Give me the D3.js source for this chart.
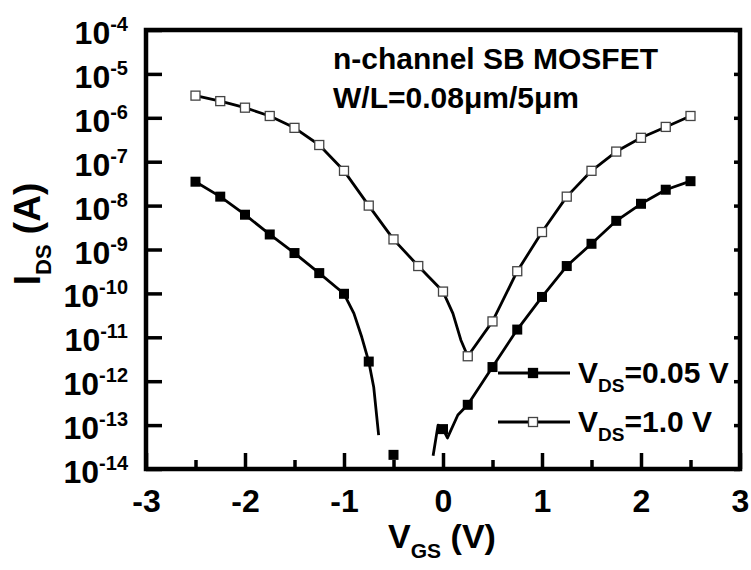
<!DOCTYPE html>
<html>
<head>
<meta charset="utf-8">
<script src="https://cdn.jsdelivr.net/npm/d3@7"></script>
<style>
  body { margin: 0; background: #fff; }
  text { font-family: "Liberation Sans", Arial, Helvetica, sans-serif; font-weight: bold; fill: #000; }
</style>
</head>
<body>
<div class="svg-container"></div>
<script>
// gate voltage of the marker points
const vgs = [-2.5, -2.25, -2, -1.75, -1.5, -1.25, -1, -0.75, -0.5, -0.25, 0,
  0.25, 0.5, 0.75, 1, 1.25, 1.5, 1.75, 2, 2.25, 2.5];

// I_DS (A) at the markers, VDS = 1.0 V (open squares)
const idsHigh = [3.2e-6, 2.4e-6, 1.7e-6, 1.1e-6, 5.9e-7, 2.4e-7, 6.2e-8, 1.0e-8, 1.7e-9, 4.2e-10, 1.1e-10,
  3.7e-12, 2.3e-11, 3.2e-10, 2.5e-9, 1.6e-8, 6.2e-8, 1.7e-7, 3.5e-7, 6.2e-7, 1.1e-6];

// I_DS (A) at the markers, VDS = 0.05 V (filled squares), null = off scale
const idsLow = [3.5e-8, 1.6e-8, 6.2e-9, 2.2e-9, 8.3e-10, 2.9e-10, 9.8e-11, 2.8e-12, 2.1e-14, null, 8.1e-14,
  2.9e-13, 2.1e-12, 1.5e-11, 8.3e-11, 4.2e-10, 1.35e-9, 4.5e-9, 1.1e-8, 2.3e-8, 3.6e-8];

// extra points of the measured lines between markers
const highExtraV = [0.1, 0.18];
const highExtraI = [3.5e-11, 8.7e-12];

const lowLeftExtraV = [-0.9, -0.82, -0.7, -0.65];
const lowLeftExtraI = [3.5e-11, 1.0e-11, 7.4e-13, 5.9e-14];
const lowRightExtraV = [-0.1, -0.05, 0.045, 0.15];
const lowRightExtraI = [2.0e-14, 1.0e-13, 5.1e-14, 1.7e-13];

const xTicks = [-3, -2, -1, 0, 1, 2, 3];
const xMinorTicks = [-2.5, -1.5, -0.5, 0.5, 1.5, 2.5];
const yExponents = [-14, -13, -12, -11, -10, -9, -8, -7, -6, -5, -4];

const width = 751;
const height = 570;
const plot = { left: 146, right: 740, top: 30, bottom: 469 };

const svg = d3.select('.svg-container')
  .append('svg')
  .attr('width', width)
  .attr('height', height);

const x = d3.scaleLinear().domain([-3, 3]).range([plot.left, plot.right]);
const y = d3.scaleLog().domain([1e-14, 1e-4]).range([plot.bottom, plot.top]);

function toPoints(vs, is) {
  return vs.map((v, k) => ({ v: v, i: is[k] })).filter((d) => d.i != null);
}
function byV(a, b) { return a.v - b.v; }

const highMarkers = toPoints(vgs, idsHigh);
const lowMarkers = toPoints(vgs, idsLow);

const highLine = highMarkers.concat(toPoints(highExtraV, highExtraI)).sort(byV);
const lowLeftLine = lowMarkers.filter((d) => d.v <= -0.75)
  .concat(toPoints(lowLeftExtraV, lowLeftExtraI)).sort(byV);
const lowRightLine = lowMarkers.filter((d) => d.v >= 0)
  .concat(toPoints(lowRightExtraV, lowRightExtraI)).sort(byV);

// axes
const tickStroke = 3.5;

const xAxis = svg.append('g')
  .attr('transform', `translate(0,${plot.bottom})`)
  .call(d3.axisBottom(x).tickValues(xTicks).tickSize(-16).tickPadding(20)
    .tickFormat((d) => String(d)));
xAxis.selectAll('text').style('font-size', '32px').style('font-family', null);

svg.append('g')
  .attr('transform', `translate(0,${plot.bottom})`)
  .call(d3.axisBottom(x).tickValues(xMinorTicks).tickSize(-9).tickFormat(''));

svg.append('g')
  .attr('transform', `translate(${plot.left},0)`)
  .call(d3.axisLeft(y).tickValues(yExponents.map((e) => Math.pow(10, e))).tickSize(-16).tickFormat(''));

svg.append('g')
  .attr('transform', `translate(${plot.right},0)`)
  .call(d3.axisRight(y).tickValues(yExponents.map((e) => Math.pow(10, e))).tickSize(-6).tickFormat(''));

svg.selectAll('.domain').remove();
svg.selectAll('.tick line').attr('stroke', '#000').attr('stroke-width', tickStroke);

// y tick labels 10^n
const yLabels = svg.append('g');
yExponents.forEach((e) => {
  const t = yLabels.append('text')
    .attr('x', 128)
    .attr('y', y(Math.pow(10, e)) + 14)
    .attr('text-anchor', 'end');
  t.append('tspan').style('font-size', '32px').text('10');
  t.append('tspan').style('font-size', '20px').attr('dy', -13).text(String(e));
});

// frame
svg.append('rect')
  .attr('x', plot.left)
  .attr('y', plot.top)
  .attr('width', plot.right - plot.left)
  .attr('height', plot.bottom - plot.top)
  .attr('fill', 'none')
  .attr('stroke', '#000')
  .attr('stroke-width', 4.5);

// curves
const line = d3.line().x((d) => x(d.v)).y((d) => y(d.i));

[highLine, lowLeftLine, lowRightLine].forEach((pts) => {
  svg.append('path')
    .attr('d', line(pts))
    .attr('fill', 'none')
    .attr('stroke', '#000')
    .attr('stroke-width', 2.8)
    .attr('stroke-linejoin', 'round');
});

const ms = 10;
svg.append('g').selectAll('rect')
  .data(lowMarkers)
  .enter()
  .append('rect')
  .attr('x', (d) => x(d.v) - ms / 2)
  .attr('y', (d) => y(d.i) - ms / 2)
  .attr('width', ms)
  .attr('height', ms)
  .attr('fill', '#000');

svg.append('g').selectAll('rect')
  .data(highMarkers)
  .enter()
  .append('rect')
  .attr('x', (d) => x(d.v) - ms / 2 + 0.5)
  .attr('y', (d) => y(d.i) - ms / 2 + 0.5)
  .attr('width', ms - 1)
  .attr('height', ms - 1)
  .attr('fill', '#fff')
  .attr('stroke', '#444')
  .attr('stroke-width', 1.3);

// annotation
svg.append('text').attr('x', 333).attr('y', 69).style('font-size', '30px').text('n-channel SB MOSFET');
svg.append('text').attr('x', 333).attr('y', 108).style('font-size', '30px').text('W/L=0.08\u03bcm/5\u03bcm');

// legend
const legend = [
  { label: '=0.05 V', filled: true, y: 373 },
  { label: '=1.0 V', filled: false, y: 422 }
];
legend.forEach((item) => {
  svg.append('line')
    .attr('x1', 498).attr('x2', 570)
    .attr('y1', item.y).attr('y2', item.y)
    .attr('stroke', '#000').attr('stroke-width', 2.8);
  svg.append('rect')
    .attr('x', 533 - ms / 2 + 0.5).attr('y', item.y - ms / 2 + 0.5)
    .attr('width', ms - 1).attr('height', ms - 1)
    .attr('fill', item.filled ? '#000' : '#fff')
    .attr('stroke', item.filled ? '#000' : '#444')
    .attr('stroke-width', 1.3);
  const t = svg.append('text').attr('x', 578).attr('y', item.y + 10);
  t.append('tspan').style('font-size', '30px').text('V');
  t.append('tspan').style('font-size', '19px').attr('dy', 9).text('DS');
  t.append('tspan').style('font-size', '30px').attr('dy', -9).text(item.label);
});

// axis titles
const xt = svg.append('text').attr('x', 442).attr('y', 548).attr('text-anchor', 'middle');
xt.append('tspan').style('font-size', '34px').text('V');
xt.append('tspan').style('font-size', '21px').attr('dy', 10).text('GS');
xt.append('tspan').style('font-size', '34px').attr('dy', -10).text(' (V)');

const yt = svg.append('text')
  .attr('transform', 'translate(40,234) rotate(-90)')
  .attr('text-anchor', 'middle');
yt.append('tspan').style('font-size', '37px').text('I');
yt.append('tspan').style('font-size', '22px').attr('dy', 11).text('DS');
yt.append('tspan').style('font-size', '37px').attr('dy', -11).text(' (A)');
</script>
</body>
</html>
